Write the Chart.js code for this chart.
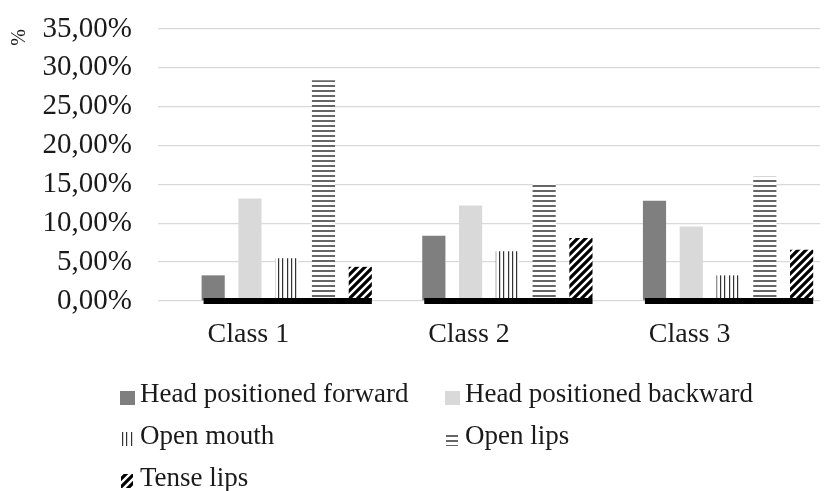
<!DOCTYPE html>
<html>
<head>
<meta charset="utf-8">
<script src="https://cdn.jsdelivr.net/npm/chart.js@4.4.1/dist/chart.umd.min.js"></script>
<style>
  html, body { margin: 0; padding: 0; background: #fff; }
  #wrap { width: 824px; height: 491px; position: relative; }
</style>
</head>
<body>
<div id="wrap"><canvas id="chart"></canvas></div>
<script>
// values (percent)
const categories   = ['Class 1', 'Class 2', 'Class 3'];
const headForward  = [3.3, 8.4, 12.9];
const headBackward = [13.2, 12.3, 9.6];
const openMouth    = [5.5, 6.4, 3.3];
const openLips     = [28.4, 15.3, 16.0];
const tenseLips    = [4.4, 8.1, 6.6];
const seriesNames  = ['Head positioned forward', 'Head positioned backward', 'Open mouth', 'Open lips', 'Tense lips'];
const yTicks       = [0, 5, 10, 15, 20, 25, 30, 35];

const FONT = "'Liberation Serif', 'Times New Roman', serif";
const INK  = '#1a1a1a';

function makePattern(w, h, paint) {
  const c = document.createElement('canvas');
  c.width = w; c.height = h;
  const g = c.getContext('2d');
  g.fillStyle = '#fff';
  g.fillRect(0, 0, w, h);
  paint(g);
  return g.createPattern(c, 'repeat');
}

// vertical lines
const patMouth = makePattern(13, 4, g => {
  g.fillStyle = '#333';
  [1, 5, 9].forEach(x => g.fillRect(x, 0, 1.2, 4));
});
// horizontal lines
const patLips = makePattern(4, 5, g => {
  g.fillStyle = '#666';
  g.fillRect(0, 0, 4, 2);
});
// diagonal "/" stripes
const patTense = makePattern(8, 8, g => {
  g.strokeStyle = '#000';
  g.lineWidth = 3.2;
  g.beginPath();
  g.moveTo(-2, 10); g.lineTo(10, -2);
  g.moveTo(-6, 6);  g.lineTo(6, -6);
  g.moveTo(2, 14);  g.lineTo(14, 2);
  g.stroke();
});

const fills = ['#7f7f7f', '#d9d9d9', patMouth, patLips, patTense];
const seriesData = [headForward, headBackward, openMouth, openLips, tenseLips];

// thick black base under each group of bars
const baseBars = {
  id: 'baseBars',
  afterDatasetsDraw(chart) {
    const { ctx } = chart;
    const first = chart.getDatasetMeta(1).data;
    const last  = chart.getDatasetMeta(5).data;
    const y = chart.scales.y.getPixelForValue(0);
    ctx.save();
    ctx.fillStyle = '#000';
    categories.forEach((c, i) => {
      const l = first[i].x - first[i].width / 2 + 2;
      const r = last[i].x + last[i].width / 2;
      ctx.fillRect(l, y - 3, r - l, 6);
    });
    ctx.restore();
  }
};

// two-column legend like the source
const gridLegend = {
  id: 'gridLegend',
  afterDraw(chart) {
    const { ctx } = chart;
    const cols = [120, 445];
    const rows = [395, 437, 479];
    ctx.save();
    ctx.font = '27px ' + FONT;
    ctx.textBaseline = 'middle';
    seriesNames.forEach((name, i) => {
      const x = cols[i % 2], y = rows[Math.floor(i / 2)];
      ctx.fillStyle = fills[i];
      if (i < 2) ctx.fillRect(x, y - 4, 15, 14);
      else ctx.fillRect(x + 1, y - 5, 12, 14);
      ctx.fillStyle = INK;
      ctx.fillText(name, x + 20, y);
    });
    ctx.restore();
  }
};

const datasets = [{ label: '', data: categories.map(() => null) }];
seriesNames.forEach((name, i) => {
  datasets.push({
    label: name,
    data: seriesData[i],
    backgroundColor: fills[i],
    borderWidth: 0,
  });
});

new Chart(document.getElementById('chart'), {
  type: 'bar',
  data: { labels: categories, datasets },
  options: {
    responsive: true,
    maintainAspectRatio: false,
    animation: false,
    events: [],
    layout: { padding: { top: 29, right: 4, bottom: 139, left: 0 } },
    datasets: { bar: { categoryPercentage: 1.0, barPercentage: 0.63 } },
    plugins: { legend: { display: false }, tooltip: { enabled: false } },
    scales: {
      x: {
        grid: { display: false, drawTicks: false },
        border: { display: false },
        ticks: { color: INK, font: { family: FONT, size: 28 }, padding: 17, labelOffset: -20 },
        afterFit: s => { s.height = 51; s.paddingLeft = 0; s.paddingRight = 0; },
      },
      y: {
        min: 0, max: 35,
        afterBuildTicks: s => { s.ticks = yTicks.map(v => ({ value: v })); },
        afterFit: s => { s.width = 158; s.paddingTop = 0; s.paddingBottom = 0; },
        grid: { color: '#d9d9d9', lineWidth: 1.3, drawTicks: false },
        border: { display: false },
        ticks: {
          autoSkip: false,
          color: INK, font: { family: FONT, size: 29 }, padding: 26,
          callback: v => v.toFixed(2).replace('.', ',') + '%',
        },
        title: {
          display: true, text: '%', align: 'end', color: INK,
          font: { family: FONT, size: 20 }, padding: { top: 8, bottom: 10 },
        },
      },
    },
  },
  plugins: [baseBars, gridLegend],
});
</script>
</body>
</html>
